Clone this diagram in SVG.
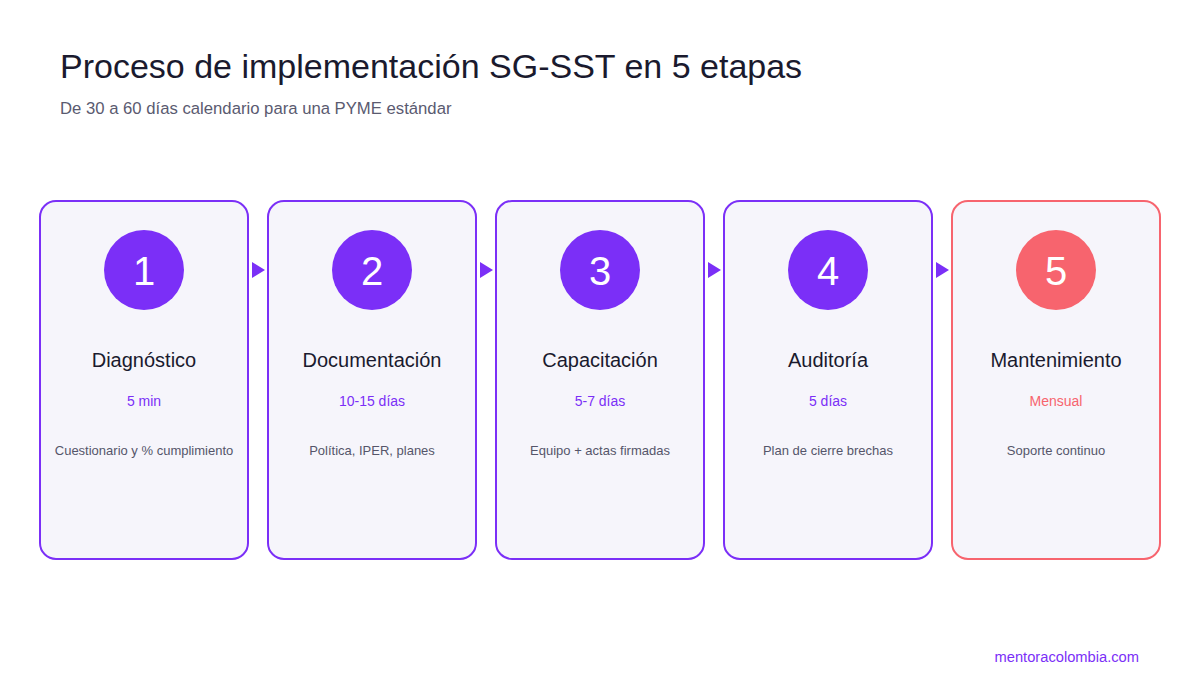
<svg xmlns="http://www.w3.org/2000/svg" width="1200" height="700" viewBox="0 0 1200 700">
<style>
text{font-family:"Liberation Sans",Arial,sans-serif}
.card{fill:#f6f5fb;stroke:#7b2ff7;stroke-width:2}
.card.red{stroke:#f7646e}
.circ{fill:#7b2ff7}
.circ.red{fill:#f7646e}
.num{fill:#fff;font-size:40px;text-anchor:middle}
.ttl{fill:#1a1a2e;font-size:20px;text-anchor:middle}
.dur{fill:#7b2ff7;font-size:14px;text-anchor:middle}
.dur.red{fill:#f7646e}
.desc{fill:#55556a;font-size:13px;text-anchor:middle}
.arr{fill:#7b2ff7}
</style>
<rect width="1200" height="700" fill="#ffffff"/>
<text x="60" y="78" font-size="34" fill="#1a1a2e">Proceso de implementación SG-SST en 5 etapas</text>
<text x="60" y="114" font-size="16.7" fill="#5a5a70">De 30 a 60 días calendario para una PYME estándar</text>
<g id="connectors">
<path class="arr" d="M252,262 L265,270 L252,278 Z"/>
<path class="arr" d="M480,262 L493,270 L480,278 Z"/>
<path class="arr" d="M708,262 L721,270 L708,278 Z"/>
<path class="arr" d="M936,262 L949,270 L936,278 Z"/>
</g>
<g id="node1">
<rect class="card" x="40" y="201" width="208" height="358" rx="16"/>
<circle class="circ" cx="144" cy="270" r="40"/>
<text class="num" x="144" y="285">1</text>
<text class="ttl" x="144" y="367">Diagnóstico</text>
<text class="dur" x="144" y="406">5 min</text>
<text class="desc" x="144" y="455">Cuestionario y % cumplimiento</text>
</g>
<g id="node2">
<rect class="card" x="268" y="201" width="208" height="358" rx="16"/>
<circle class="circ" cx="372" cy="270" r="40"/>
<text class="num" x="372" y="285">2</text>
<text class="ttl" x="372" y="367">Documentación</text>
<text class="dur" x="372" y="406">10-15 días</text>
<text class="desc" x="372" y="455">Política, IPER, planes</text>
</g>
<g id="node3">
<rect class="card" x="496" y="201" width="208" height="358" rx="16"/>
<circle class="circ" cx="600" cy="270" r="40"/>
<text class="num" x="600" y="285">3</text>
<text class="ttl" x="600" y="367">Capacitación</text>
<text class="dur" x="600" y="406">5-7 días</text>
<text class="desc" x="600" y="455">Equipo + actas firmadas</text>
</g>
<g id="node4">
<rect class="card" x="724" y="201" width="208" height="358" rx="16"/>
<circle class="circ" cx="828" cy="270" r="40"/>
<text class="num" x="828" y="285">4</text>
<text class="ttl" x="828" y="367">Auditoría</text>
<text class="dur" x="828" y="406">5 días</text>
<text class="desc" x="828" y="455">Plan de cierre brechas</text>
</g>
<g id="node5">
<rect class="card red" x="952" y="201" width="208" height="358" rx="16"/>
<circle class="circ red" cx="1056" cy="270" r="40"/>
<text class="num" x="1056" y="285">5</text>
<text class="ttl" x="1056" y="367">Mantenimiento</text>
<text class="dur red" x="1056" y="406">Mensual</text>
<text class="desc" x="1056" y="455">Soporte continuo</text>
</g>
<text x="1139" y="662" font-size="14.7" fill="#7b2ff7" text-anchor="end">mentoracolombia.com</text>
</svg>
